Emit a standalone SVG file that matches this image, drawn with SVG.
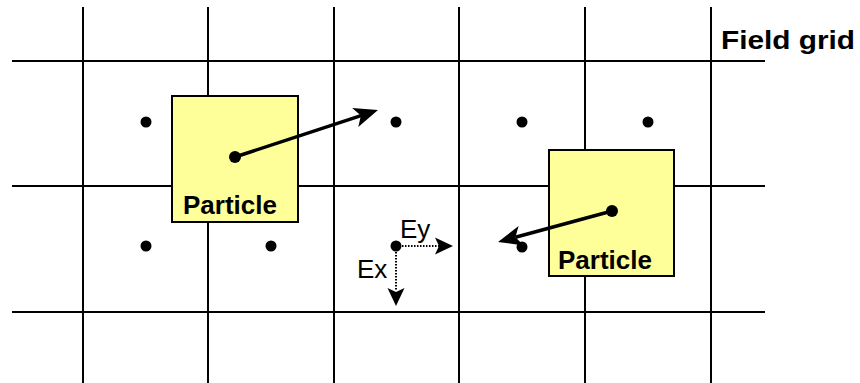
<svg xmlns="http://www.w3.org/2000/svg" width="860" height="383" viewBox="0 0 860 383">
<defs>
<style>
.grid{stroke:#000;stroke-width:2;fill:none}
.box{fill:#ffff99;stroke:#000;stroke-width:2}
.dot{fill:#000}
.head{fill:#000}
.lbl{font-family:"Liberation Sans",Arial,sans-serif;font-weight:bold;fill:#000}
.e{font-family:"Liberation Sans",Arial,sans-serif;font-size:26px;fill:#000}
.arr{stroke:#000;stroke-width:3.5;fill:none}
.dash{stroke:#000;stroke-width:2;stroke-dasharray:1.5 1.5;fill:none}
</style>
</defs>
<rect width="860" height="383" fill="#fff"/>
<g id="grid">
<line class="grid" x1="83" y1="7" x2="83" y2="383"/>
<line class="grid" x1="208" y1="7" x2="208" y2="383"/>
<line class="grid" x1="334" y1="7" x2="334" y2="383"/>
<line class="grid" x1="459" y1="7" x2="459" y2="383"/>
<line class="grid" x1="585" y1="7" x2="585" y2="383"/>
<line class="grid" x1="711" y1="7" x2="711" y2="383"/>
<line class="grid" x1="12" y1="61" x2="765" y2="61"/>
<line class="grid" x1="12" y1="186" x2="765" y2="186"/>
<line class="grid" x1="12" y1="312" x2="765" y2="312"/>
<text class="lbl" x="721" y="49" font-size="26" textLength="134" lengthAdjust="spacingAndGlyphs">Field grid</text>
</g>
<g id="gridpoints">
<circle class="dot" cx="146" cy="122" r="5.5"/>
<circle class="dot" cx="396" cy="122" r="5.5"/>
<circle class="dot" cx="522" cy="122" r="5.5"/>
<circle class="dot" cx="648" cy="122" r="5.5"/>
<circle class="dot" cx="146" cy="246" r="5.5"/>
<circle class="dot" cx="271" cy="246" r="5.5"/>
<circle class="dot" cx="522" cy="247" r="5.5"/>
</g>
<g id="particle1">
<rect class="box" x="172" y="96" width="126" height="126"/>
<circle class="dot" cx="235" cy="157" r="6"/>
<text class="lbl" x="183" y="214" font-size="26">Particle</text>
</g>
<g id="particle2">
<rect class="box" x="549" y="150" width="125" height="126"/>
<circle class="dot" cx="612" cy="211" r="6"/>
<text class="lbl" x="558" y="269" font-size="26">Particle</text>
</g>
<g id="fieldpoint">
<circle class="dot" cx="396" cy="246" r="5.5"/>
<text class="e" x="400" y="238">Ey</text>
<text class="e" x="357" y="278">Ex</text>
</g>
<g id="connectors">
<line class="arr" x1="235" y1="157" x2="361" y2="115.6"/>
<polygon class="head" points="378,110 358.3,127 360.9,115.6 352.1,108"/>
<line class="arr" x1="612" y1="211" x2="515.4" y2="237.3"/>
<polygon class="head" points="498,242 518.6,226 515.4,237.3 523.8,245.4"/>
<line class="dash" x1="396" y1="246" x2="439" y2="246"/>
<polygon class="head" points="453,246 435,254.5 439,246 435,237.5"/>
<line class="dash" x1="396" y1="246" x2="396" y2="291"/>
<polygon class="head" points="396,306 387.5,288 396,292 404.5,288"/>
</g>
</svg>
